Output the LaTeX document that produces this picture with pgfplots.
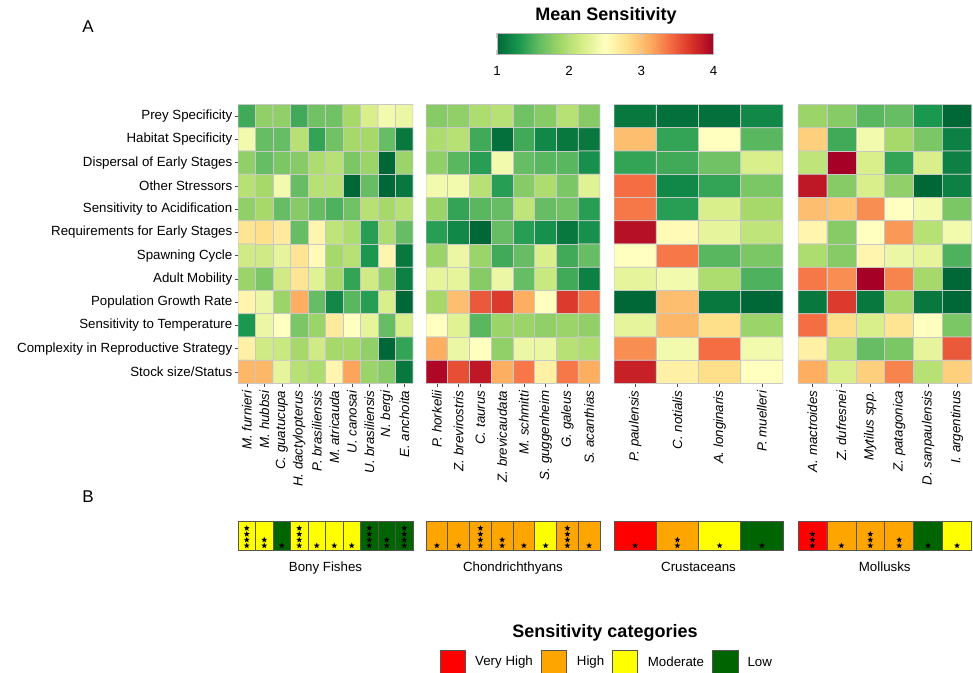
\documentclass[border=0pt]{standalone}
\usepackage{pgfplots}
\pgfplotsset{compat=1.18}
\usepackage{fontspec}
\setmainfont{Liberation Sans}
\definecolor{vh}{RGB}{255,0,0}
\definecolor{hi}{RGB}{255,165,0}
\definecolor{mo}{RGB}{255,255,0}
\definecolor{lo}{RGB}{0,100,0}
\definecolor{cellb}{RGB}{200,200,200}
\definecolor{catb}{RGB}{85,85,85}
\newcommand{\lab}{\fontsize{13.3}{15}\selectfont}
\pgfdeclareplotmark{fstar}{%
  \pgfpathmoveto{\pgfpointpolar{90}{\pgfplotmarksize}}%
  \pgfpathlineto{\pgfpointpolar{126}{0.42\pgfplotmarksize}}%
  \pgfpathlineto{\pgfpointpolar{162}{\pgfplotmarksize}}%
  \pgfpathlineto{\pgfpointpolar{198}{0.42\pgfplotmarksize}}%
  \pgfpathlineto{\pgfpointpolar{234}{\pgfplotmarksize}}%
  \pgfpathlineto{\pgfpointpolar{270}{0.42\pgfplotmarksize}}%
  \pgfpathlineto{\pgfpointpolar{306}{\pgfplotmarksize}}%
  \pgfpathlineto{\pgfpointpolar{342}{0.42\pgfplotmarksize}}%
  \pgfpathlineto{\pgfpointpolar{18}{\pgfplotmarksize}}%
  \pgfpathlineto{\pgfpointpolar{54}{0.42\pgfplotmarksize}}%
  \pgfpathclose
  \pgfusepathqfill}
\pgfplotsset{
  colormap={rdylgn}{rgb255=(0,104,55) rgb255=(26,152,80) rgb255=(102,189,99) rgb255=(166,217,106) rgb255=(217,239,139) rgb255=(255,255,191) rgb255=(254,224,139) rgb255=(253,174,97) rgb255=(244,109,67) rgb255=(215,48,39) rgb255=(165,0,38)},
  heat/.style={scale only axis, height=279pt, ymin=-0.5, ymax=11.5, y dir=reverse,
    point meta min=1, point meta max=4, colormap name=rdylgn,
    axis line style={draw=none}, tick align=outside, major tick length=3.5pt,
    tick style={color=black!70, line width=0.5pt},
    xtick pos=bottom, ytick pos=left,
    xticklabel style={rotate=90, anchor=east, font=\lab\itshape, inner sep=3.5pt},
    yticklabel style={font=\lab, inner sep=2pt},
    anchor=north west},
  cat/.style={scale only axis, height=29pt, ymin=0, ymax=1, anchor=north west,
    axis line style={catb, line width=0.8pt}, xtick=\empty, ytick=\empty, clip=false},
  catbar/.style={ybar, bar width=1, bar shift=0pt, draw=catb, line width=0.6pt},
  stars/.style={only marks, mark=fstar, mark size=3.1pt, black},
}
\begin{document}
\begin{tikzpicture}
\useasboundingbox (0pt,0pt) rectangle (973pt,-672pt);
% Panel A: heatmaps
\begin{axis}[heat, at={(238pt,-104.5pt)}, width=175pt, xmin=-0.5, xmax=9.5,
  xtick={0,...,9}, xticklabels={M. furnieri,M. hubbsi,C. guatucupa,H. dactylopterus,P. brasiliensis,M. atricauda,U. canosai,U. brasiliensis,N. bergi,E. anchoita},
  ytick={0,...,11}, yticklabels={Prey Specificity,Habitat Specificity,Dispersal of Early Stages,Other Stressors,Sensitivity to Acidification,Requirements for Early Stages,Spawning Cycle,Adult Mobility,Population Growth Rate,Sensitivity to Temperature,Complexity in Reproductive Strategy,Stock size/Status}]
\addplot[matrix plot*, mesh/cols=10, point meta=explicit, draw=cellb, line width=0.6pt] coordinates {
(0,0)[1.45] (1,0)[1.8] (2,0)[1.8] (3,0)[1.45] (4,0)[1.65] (5,0)[1.65] (6,0)[1.9] (7,0)[2.2] (8,0)[2.4] (9,0)[2.35]
(0,1)[2.4] (1,1)[1.6] (2,1)[1.6] (3,1)[2.0] (4,1)[1.4] (5,1)[1.65] (6,1)[1.9] (7,1)[1.9] (8,1)[1.6] (9,1)[1.1]
(0,2)[1.8] (1,2)[1.6] (2,2)[1.7] (3,2)[1.75] (4,2)[1.95] (5,2)[2.0] (6,2)[1.7] (7,2)[1.85] (8,2)[1.0] (9,2)[1.85]
(0,3)[2.0] (1,3)[1.9] (2,3)[2.4] (3,3)[1.6] (4,3)[2.0] (5,3)[2.0] (6,3)[1.0] (7,3)[1.6] (8,3)[1.0] (9,3)[1.1]
(0,4)[1.8] (1,4)[1.9] (2,4)[1.6] (3,4)[1.75] (4,4)[1.6] (5,4)[1.5] (6,4)[1.65] (7,4)[2.0] (8,4)[1.9] (9,4)[2.0]
(0,5)[2.75] (1,5)[2.8] (2,5)[2.7] (3,5)[1.6] (4,5)[2.6] (5,5)[2.05] (6,5)[1.95] (7,5)[1.35] (8,5)[1.95] (9,5)[1.6]
(0,6)[2.15] (1,6)[2.15] (2,6)[2.3] (3,6)[2.75] (4,6)[2.55] (5,6)[1.9] (6,6)[2.0] (7,6)[1.3] (8,6)[2.6] (9,6)[1.1]
(0,7)[1.85] (1,7)[1.7] (2,7)[2.15] (3,7)[2.75] (4,7)[2.25] (5,7)[1.9] (6,7)[1.4] (7,7)[2.15] (8,7)[1.8] (9,7)[1.15]
(0,8)[2.6] (1,8)[2.35] (2,8)[1.85] (3,8)[3.1] (4,8)[1.6] (5,8)[1.2] (6,8)[1.55] (7,8)[1.35] (8,8)[2.2] (9,8)[1.0]
(0,9)[1.3] (1,9)[2.35] (2,9)[2.5] (3,9)[1.7] (4,9)[1.85] (5,9)[2.7] (6,9)[2.5] (7,9)[2.3] (8,9)[1.6] (9,9)[2.2]
(0,10)[2.65] (1,10)[2.15] (2,10)[2.1] (3,10)[1.9] (4,10)[2.15] (5,10)[1.9] (6,10)[1.9] (7,10)[1.8] (8,10)[1.0] (9,10)[1.4]
(0,11)[3.05] (1,11)[3.05] (2,11)[2.3] (3,11)[2.0] (4,11)[1.95] (5,11)[2.6] (6,11)[3.15] (7,11)[1.85] (8,11)[1.75] (9,11)[1.1]
};
\end{axis}
\begin{axis}[heat, at={(426pt,-104.5pt)}, width=174pt, xmin=-0.5, xmax=7.5,
  xtick={0,...,7}, xticklabels={P. horkelii,Z. brevirostris,C. taurus,Z. brevicaudata,M. schmitti,S. guggenheim,G. galeus,S. acanthias}, ytick=\empty]
\addplot[matrix plot*, mesh/cols=8, point meta=explicit, draw=cellb, line width=0.6pt] coordinates {
(0,0)[1.75] (1,0)[1.8] (2,0)[1.95] (3,0)[2.0] (4,0)[1.65] (5,0)[1.75] (6,0)[2.0] (7,0)[1.75]
(0,1)[1.95] (1,1)[2.0] (2,1)[1.45] (3,1)[1.05] (4,1)[1.45] (5,1)[1.2] (6,1)[1.1] (7,1)[1.1]
(0,2)[1.8] (1,2)[1.55] (2,2)[1.35] (3,2)[2.4] (4,2)[1.6] (5,2)[1.55] (6,2)[1.55] (7,2)[1.25]
(0,3)[2.4] (1,3)[2.4] (2,3)[2.0] (3,3)[1.35] (4,3)[1.75] (5,3)[1.95] (6,3)[1.7] (7,3)[2.25]
(0,4)[1.85] (1,4)[1.4] (2,4)[1.55] (3,4)[1.6] (4,4)[2.05] (5,4)[1.6] (6,4)[1.65] (7,4)[1.35]
(0,5)[1.35] (1,5)[1.2] (2,5)[1.0] (3,5)[1.6] (4,5)[1.35] (5,5)[1.25] (6,5)[1.1] (7,5)[1.25]
(0,6)[1.85] (1,6)[2.35] (2,6)[1.85] (3,6)[1.45] (4,6)[1.6] (5,6)[2.2] (6,6)[1.45] (7,6)[1.6]
(0,7)[2.3] (1,7)[2.3] (2,7)[1.75] (3,7)[2.35] (4,7)[1.6] (5,7)[2.1] (6,7)[1.45] (7,7)[1.15]
(0,8)[1.9] (1,8)[3.0] (2,8)[3.5] (3,8)[3.65] (4,8)[3.1] (5,8)[2.5] (6,8)[3.65] (7,8)[3.35]
(0,9)[2.5] (1,9)[2.25] (2,9)[1.55] (3,9)[1.85] (4,9)[1.85] (5,9)[1.8] (6,9)[1.85] (7,9)[1.8]
(0,10)[3.1] (1,10)[2.35] (2,10)[2.5] (3,10)[1.8] (4,10)[2.35] (5,10)[2.35] (6,10)[2.0] (7,10)[1.95]
(0,11)[3.95] (1,11)[3.55] (2,11)[3.85] (3,11)[3.1] (4,11)[3.35] (5,11)[2.65] (6,11)[3.35] (7,11)[3.1]
};
\end{axis}
\begin{axis}[heat, at={(614pt,-104.5pt)}, width=169pt, xmin=-0.5, xmax=3.5,
  xtick={0,...,3}, xticklabels={P. paulensis,C. notialis,A. longinaris,P. muelleri}, ytick=\empty]
\addplot[matrix plot*, mesh/cols=4, point meta=explicit, draw=cellb, line width=0.6pt] coordinates {
(0,0)[1.1] (1,0)[1.05] (2,0)[1.05] (3,0)[1.2]
(0,1)[3.0] (1,1)[1.4] (2,1)[2.5] (3,1)[1.55]
(0,2)[1.4] (1,2)[1.45] (2,2)[1.65] (3,2)[2.2]
(0,3)[3.4] (1,3)[1.2] (2,3)[1.4] (3,3)[1.7]
(0,4)[3.35] (1,4)[1.35] (2,4)[2.2] (3,4)[1.9]
(0,5)[3.9] (1,5)[2.55] (2,5)[2.3] (3,5)[2.05]
(0,6)[2.5] (1,6)[3.35] (2,6)[1.55] (3,6)[1.7]
(0,7)[2.3] (1,7)[2.4] (2,7)[1.95] (3,7)[1.5]
(0,8)[1.0] (1,8)[3.0] (2,8)[1.1] (3,8)[1.0]
(0,9)[2.3] (1,9)[3.05] (2,9)[2.8] (3,9)[1.85]
(0,10)[3.25] (1,10)[2.4] (2,10)[3.4] (3,10)[2.4]
(0,11)[3.8] (1,11)[2.65] (2,11)[2.8] (3,11)[2.5]
};
\end{axis}
\begin{axis}[heat, at={(798pt,-104.5pt)}, width=173.5pt, xmin=-0.5, xmax=5.5,
  xtick={0,...,5}, xticklabels={A. mactroides,Z. dufresnei,Mytilus spp.,Z. patagonica,D. sanpaulensis,I. argentinus}, ytick=\empty]
\addplot[matrix plot*, mesh/cols=6, point meta=explicit, draw=cellb, line width=0.6pt] coordinates {
(0,0)[1.85] (1,0)[1.75] (2,0)[1.55] (3,0)[1.6] (4,0)[1.3] (5,0)[1.0]
(0,1)[2.9] (1,1)[1.45] (2,1)[2.4] (3,1)[1.9] (4,1)[1.7] (5,1)[1.15]
(0,2)[2.05] (1,2)[4.0] (2,2)[2.2] (3,2)[1.4] (4,2)[2.2] (5,2)[1.15]
(0,3)[3.85] (1,3)[1.75] (2,3)[2.2] (3,3)[1.8] (4,3)[1.0] (5,3)[1.15]
(0,4)[3.0] (1,4)[2.95] (2,4)[3.25] (3,4)[2.5] (4,4)[2.4] (5,4)[1.7]
(0,5)[2.6] (1,5)[1.75] (2,5)[2.5] (3,5)[3.2] (4,5)[2.0] (5,5)[2.4]
(0,6)[1.95] (1,6)[1.75] (2,6)[2.6] (3,6)[2.35] (4,6)[2.3] (5,6)[1.5]
(0,7)[3.35] (1,7)[3.25] (2,7)[4.0] (3,7)[3.3] (4,7)[1.9] (5,7)[1.0]
(0,8)[1.1] (1,8)[3.65] (2,8)[1.1] (3,8)[1.9] (4,8)[1.1] (5,8)[1.0]
(0,9)[3.4] (1,9)[2.8] (2,9)[2.2] (3,9)[2.75] (4,9)[2.5] (5,9)[1.7]
(0,10)[2.65] (1,10)[2.05] (2,10)[1.6] (3,10)[1.7] (4,10)[2.3] (5,10)[3.5]
(0,11)[3.1] (1,11)[2.2] (2,11)[2.9] (3,11)[3.3] (4,11)[2.0] (5,11)[2.9]
};
\end{axis}
% colorbar
\begin{axis}[scale only axis, at={(497pt,-33.3pt)}, anchor=north west, width=216.5pt, height=21.5pt,
  xmin=1, xmax=4, ymin=0, ymax=1, colormap name=rdylgn, point meta min=1, point meta max=4,
  axis on top=true,
  axis line style={draw=gray!55, line width=1pt}, xtick={1,2,3,4}, xticklabels={1,2,3,4}, ytick=\empty,
  xtick pos=both, xticklabel pos=lower, tick align=inside, major tick length=4.5pt,
  tick style={gray!40, line width=1.2pt},
  xticklabel style={font=\lab, yshift=-8pt}]
\addplot[surf, shader=interp, mesh/cols=11, point meta=explicit] coordinates {
(1,0)[1] (1.3,0)[1.3] (1.6,0)[1.6] (1.9,0)[1.9] (2.2,0)[2.2] (2.5,0)[2.5] (2.8,0)[2.8] (3.1,0)[3.1] (3.4,0)[3.4] (3.7,0)[3.7] (4,0)[4]
(1,1)[1] (1.3,1)[1.3] (1.6,1)[1.6] (1.9,1)[1.9] (2.2,1)[2.2] (2.5,1)[2.5] (2.8,1)[2.8] (3.1,1)[3.1] (3.4,1)[3.4] (3.7,1)[3.7] (4,1)[4]
};
\end{axis}
% Panel B
\begin{axis}[cat, at={(238pt,-521pt)}, width=175pt, xmin=-0.5, xmax=9.5]
\addplot[catbar, fill=mo] coordinates {(0,1) (1,1) (3,1) (4,1) (5,1) (6,1)};
\addplot[catbar, fill=lo] coordinates {(2,1) (7,1) (8,1) (9,1)};
\addplot[stars] coordinates {(0,0.15) (0,0.35) (0,0.55) (0,0.75) (1,0.15) (1,0.35) (2,0.15)
 (3,0.15) (3,0.35) (3,0.55) (3,0.75) (4,0.15) (5,0.15) (6,0.15)
 (7,0.15) (7,0.35) (7,0.55) (7,0.75) (8,0.15) (8,0.35) (9,0.15) (9,0.35) (9,0.55) (9,0.75)};
\end{axis}
\begin{axis}[cat, at={(426pt,-521pt)}, width=174pt, xmin=-0.5, xmax=7.5]
\addplot[catbar, fill=hi] coordinates {(0,1) (1,1) (2,1) (3,1) (4,1) (6,1) (7,1)};
\addplot[catbar, fill=mo] coordinates {(5,1)};
\addplot[stars] coordinates {(0,0.15) (1,0.15) (2,0.15) (2,0.35) (2,0.55) (2,0.75) (3,0.15) (3,0.35)
 (4,0.15) (5,0.15) (6,0.15) (6,0.35) (6,0.55) (6,0.75) (7,0.15)};
\end{axis}
\begin{axis}[cat, at={(614pt,-521pt)}, width=169pt, xmin=-0.5, xmax=3.5]
\addplot[catbar, fill=vh] coordinates {(0,1)};
\addplot[catbar, fill=hi] coordinates {(1,1)};
\addplot[catbar, fill=mo] coordinates {(2,1)};
\addplot[catbar, fill=lo] coordinates {(3,1)};
\addplot[stars] coordinates {(0,0.15) (1,0.15) (1,0.35) (2,0.15) (3,0.15)};
\end{axis}
\begin{axis}[cat, at={(798pt,-521pt)}, width=173.5pt, xmin=-0.5, xmax=5.5]
\addplot[catbar, fill=vh] coordinates {(0,1)};
\addplot[catbar, fill=hi] coordinates {(1,1) (2,1) (3,1)};
\addplot[catbar, fill=lo] coordinates {(4,1)};
\addplot[catbar, fill=mo] coordinates {(5,1)};
\addplot[stars] coordinates {(0,0.15) (0,0.35) (0,0.55) (1,0.15) (2,0.15) (2,0.35) (2,0.55)
 (3,0.15) (3,0.35) (4,0.15) (5,0.15)};
\end{axis}
% texts
\node[font=\fontsize{17}{20}\selectfont] at (88pt,-27pt) {A};
\node[font=\fontsize{17}{20}\selectfont] at (88pt,-497pt) {B};
\node[font=\fontsize{18}{22}\selectfont\bfseries] at (606pt,-16pt) {Mean Sensitivity};
\node[font=\lab, anchor=base] at (325.5pt,-571pt) {Bony Fishes};
\node[font=\lab, anchor=base] at (513pt,-571pt) {Chondrichthyans};
\node[font=\lab, anchor=base] at (698.5pt,-571pt) {Crustaceans};
\node[font=\lab, anchor=base] at (884.75pt,-571pt) {Mollusks};
% legend
\node[font=\fontsize{18}{22}\selectfont\bfseries] at (605pt,-633pt) {Sensitivity categories};
\draw[catb, line width=0.8pt, fill=vh] (440pt,-650pt) rectangle (465pt,-674pt);
\draw[catb, line width=0.8pt, fill=hi] (541pt,-650pt) rectangle (566pt,-674pt);
\draw[catb, line width=0.8pt, fill=mo] (612.7pt,-650pt) rectangle (637.7pt,-674pt);
\draw[catb, line width=0.8pt, fill=lo] (712.7pt,-650pt) rectangle (738pt,-674pt);
\node[font=\lab, anchor=west, inner sep=0pt] at (475pt,-662pt) {Very High};
\node[font=\lab, anchor=west, inner sep=0pt] at (576.7pt,-662pt) {High};
\node[font=\lab, anchor=west, inner sep=0pt] at (647.7pt,-662pt) {Moderate};
\node[font=\lab, anchor=west, inner sep=0pt] at (747.3pt,-662pt) {Low};
\end{tikzpicture}
\end{document}
